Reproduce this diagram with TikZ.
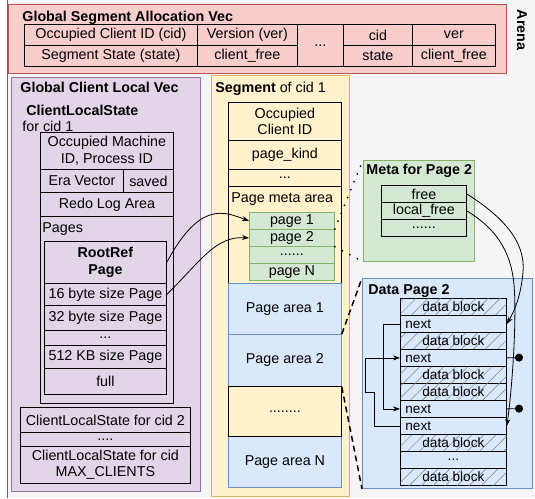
\documentclass[tikz,border=0pt]{standalone}
\usepackage{fontspec}
\setmainfont{Liberation Sans}
\usetikzlibrary{arrows.meta,patterns.meta}
\definecolor{bggray}{HTML}{F5F5F5}
\definecolor{bgline}{HTML}{666666}
\definecolor{pinkfill}{HTML}{F8CECC}
\definecolor{pinkline}{HTML}{B85450}
\definecolor{purplefill}{HTML}{E1D5E7}
\definecolor{purpleline}{HTML}{9673A6}
\definecolor{yellowfill}{HTML}{FFF2CC}
\definecolor{yellowline}{HTML}{D6B656}
\definecolor{greenfill}{HTML}{D5E8D4}
\definecolor{greenline}{HTML}{82B366}
\definecolor{bluefill}{HTML}{DAE8FC}
\definecolor{blueline}{HTML}{6C8EBF}
\begin{document}
\begin{tikzpicture}[x=1pt,y=-1pt,line width=0.8pt,
  every node/.style={font=\fontsize{14.3}{16.5}\selectfont,inner sep=0pt},
  cell/.style={draw,anchor=north west,align=center},
  row/.style={draw,anchor=north west},
  small/.style={font=\fontsize{13.6}{15}\selectfont},
  lbl/.style={anchor=base west},
  ttl/.style={anchor=base west,font=\fontsize{14.3}{16.5}\selectfont\bfseries},
  nextrow/.style={align=left,text width=96pt,inner xsep=5pt},
  hatch/.style={postaction={pattern={Lines[angle=45,distance=8.5pt,line width=0.5pt]},pattern color=black!50}},
  link/.style={-{Stealth[length=7pt,width=5pt]}},
  dotline/.style={line width=2pt,dash pattern=on 0pt off 8.5pt,line cap=round},
  dashline/.style={line width=1.5pt,dash pattern=on 6pt off 4pt}]
\useasboundingbox (0,0) rectangle (535,498);
\fill[bggray] (7,0) rectangle (535,498);
\draw[bgline] (7,0) -- (7,498);

\node[cell,draw=pinkline,fill=pinkfill,minimum width=498pt,minimum height=69pt] (gsav) at (8,4) {};
\node[ttl] (gsavtitle) at (22,21) {Global Segment Allocation Vec};
\node[ttl,rotate=-90,anchor=center] (arena) at (522,30) {Arena};
\foreach \x/\y/\w/\n/\t in {24/24/173/cidh/Occupied Client ID (cid), 197/24/100/verh/Version (ver), 343/24/69/cidc/cid, 412/24/83/verc/ver, 24/45/173/stateh/Segment State (state), 197/45/100/cfree1/client\_free, 343/45/69/statec/state, 412/45/83/cfree2/client\_free}
  \node[cell,fill=pinkfill,minimum width=\w pt,minimum height=21pt] (\n) at (\x,\y) {\t};
\node[cell,fill=pinkfill,minimum width=46pt,minimum height=42pt] (gdots) at (297,24) {...};

\node[cell,draw=purpleline,fill=purplefill,minimum width=189pt,minimum height=414pt] (gclv) at (11,77) {};
\node[ttl] (gclvtitle) at (20,92) {Global Client Local Vec};
\node[ttl] (clstitle) at (26,115) {ClientLocalState};
\node[lbl] (clsfor) at (22,131) {for cid 1};
\node[cell,fill=purplefill,minimum width=133pt,minimum height=271pt] (cls1) at (40,132) {};
\node[cell,fill=purplefill,minimum width=133pt,minimum height=37pt] (omid) at (40,132) {Occupied Machine\\ID, Process ID};
\node[cell,fill=purplefill,minimum width=83pt,minimum height=23pt] (era) at (40,169) {Era Vector};
\node[cell,fill=purplefill,minimum width=50pt,minimum height=23pt] (saved) at (123,169) {saved};
\node[cell,fill=purplefill,minimum width=133pt,minimum height=24pt] (redo) at (40,192) {Redo Log Area};
\node[lbl] (pageslbl) at (42,232) {Pages};
\node[cell,fill=purplefill,minimum width=122pt,minimum height=153pt] (pagesbox) at (44,241) {};
\node[cell,fill=purplefill,minimum width=122pt,minimum height=42pt,font=\fontsize{14.3}{16.5}\selectfont\bfseries] (rootref) at (44,241) {RootRef\\Page};
\foreach \y/\h/\n/\t in {283/22/b16/16 byte size Page, 305/25/b32/32 byte size Page, 345/23/kb512/512 KB size Page, 368/26/full/full}
  \node[cell,fill=purplefill,minimum width=122pt,minimum height=\h pt] (\n) at (44,\y) {\t};
\node[row,fill=purplefill,minimum width=122pt,minimum height=15pt] (sizedots) at (44,330) {...};
\node[cell,fill=purplefill,minimum width=170pt,minimum height=25pt] (cid2) at (20,407) {ClientLocalState for cid 2};
\node[row,fill=purplefill,minimum width=170pt,minimum height=14pt] (ciddots) at (20,432) {....};
\node[cell,fill=purplefill,minimum width=170pt,minimum height=37pt] (cidmax) at (20,446) {ClientLocalState for cid\\MAX\_CLIENTS};

\node[cell,draw=yellowline,fill=yellowfill,minimum width=138pt,minimum height=421pt] (seg) at (211,75) {};
\node[lbl] (segtitle) at (215,92) {\textbf{Segment} of cid 1};
\node[cell,fill=yellowfill,minimum width=113pt,minimum height=38pt] (occ) at (228,102) {Occupied\\Client ID};
\node[cell,fill=yellowfill,minimum width=113pt,minimum height=29pt] (kind) at (228,140) {page\_kind};
\node[row,fill=yellowfill,minimum width=113pt,minimum height=17pt] (segdots) at (228,169) {...};
\node[cell,fill=yellowfill,minimum width=113pt,minimum height=97pt] (pmeta) at (228,186) {};
\node[lbl] (pmetalbl) at (231,202) {Page meta area};
\foreach \y/\n/\t in {212/p1/page 1, 229/p2/page 2, 263/pn/page N}
  \node[cell,draw=greenline,fill=greenfill,minimum width=85pt,minimum height=17pt] (\n) at (249,\y) {\t};
\node[row,draw=greenline,fill=greenfill,minimum width=85pt,minimum height=17pt] (pgdots) at (249,246) {......};
\foreach \y/\h/\n/\t in {283/51/area1/Page area 1, 334/52/area2/Page area 2, 436/51/arean/Page area N}
  \node[cell,draw=blueline,fill=bluefill,minimum width=113pt,minimum height=\h pt] (\n) at (228,\y) {\t};
\node[row,fill=yellowfill,minimum width=113pt,minimum height=50pt] (areadots) at (228,386) {........};

\node[cell,draw=greenline,fill=greenfill,minimum width=111pt,minimum height=101pt] (meta) at (363,160) {};
\node[ttl] (metatitle) at (366,174) {Meta for Page 2};
\node[cell,fill=greenfill,minimum width=85pt,minimum height=17pt] (free) at (381,185) {free};
\node[cell,fill=greenfill,minimum width=85pt,minimum height=17pt] (lfree) at (381,202) {local\_free};
\node[row,fill=greenfill,minimum width=85pt,minimum height=17pt] (metadots) at (381,219) {......};

\node[cell,draw=blueline,fill=bluefill,minimum width=170pt,minimum height=210pt] (dp) at (362,278) {};
\node[ttl] (dptitle) at (368,294) {Data Page 2};
\foreach \y/\n in {298/d1, 332/d2, 366/d3, 383/d4, 434/d5, 468/d6}
  \node[row,small,fill=bluefill,hatch,minimum width=106pt,minimum height=17pt] (\n) at (400,\y) {data block};
\foreach \y/\n in {315/n1, 349/n2, 400/n3, 417/n4}
  \node[cell,small,fill=bluefill,nextrow,minimum width=106pt,minimum height=17pt] (\n) at (400,\y) {next};
\node[row,small,fill=bluefill,minimum width=106pt,minimum height=17pt] (blockdots) at (400,451) {...};

\draw[link] (rootref.east) .. controls (200,200) and (225,212) .. (p1.west);
\draw[link] (b16.east) .. controls (200,262) and (215,236) .. (p2.west);
\draw[dotline] (p2.north east) -- (meta.north west);
\draw[dotline] (p2.south east) -- (meta.south west);
\draw[dashline] (area2.north east) -- (dp.north west);
\draw[dashline] (area2.south east) -- (dp.south west);
\draw[link] (n1.west) -- ++(-17,0) |- (n3.west);
\draw[link] (n4.west) -- ++(-26,0) -- ++(0,-34) -- ++(-9,0) |- (n2.west);
\coordinate (freedot1) at (523,357.5);
\coordinate (freedot2) at (523,408.5);
\draw[-{Circle[length=8pt]}] (n2.east) -- (freedot1);
\draw[-{Circle[length=8pt]}] (n3.east) -- (freedot2);
\draw[link] (free.east) .. controls (500,215) and (526,240) .. (523,272) .. controls (521,295) and (515,310) .. (n1.east);
\draw[link] (lfree.east) .. controls (495,228) and (511,250) .. (514,285) .. controls (517,320) and (512,390) .. (n4.east);
\end{tikzpicture}
\end{document}
